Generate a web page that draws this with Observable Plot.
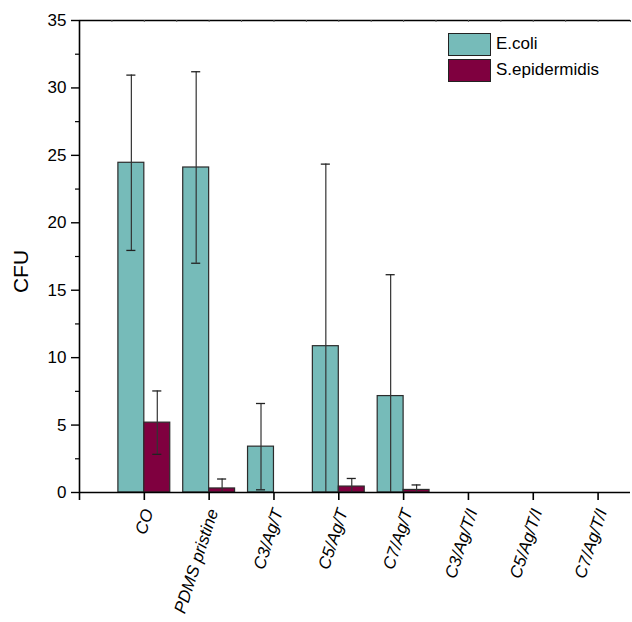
<!DOCTYPE html>
<html>
<head>
<meta charset="utf-8">
<script src="https://cdn.jsdelivr.net/npm/d3@7"></script>
<script src="https://cdn.jsdelivr.net/npm/@observablehq/plot@0.6"></script>
<style>
  html, body { margin: 0; padding: 0; background: #fff; }
  #wrap { position: relative; width: 632px; height: 622px; font-family: Arial, "Liberation Sans", sans-serif; }
  #wrap svg { font-family: Arial, "Liberation Sans", sans-serif; }
  #wrap g[aria-label="x-axis tick label"] { font-style: italic; font-size: 17px; }
  #wrap g[aria-label="y-axis tick label"] { font-size: 17px; }
  #wrap g[aria-label="text"] { font-size: 21px; }
  .legend { position: absolute; left: 448px; top: 31px; font-size: 17px; color: #000; }
  .legend .row { display: flex; align-items: center; height: 26px; }
  .legend .sw { width: 41px; height: 21px; border: 1px solid #222; margin-right: 5px; }
</style>
</head>
<body>
<div id="wrap"></div>
<script>
// ---- data ----
const categories = ["CO", "PDMS pristine", "C3/Ag/T", "C5/Ag/T", "C7/Ag/T", "C3/Ag/T/I", "C5/Ag/T/I", "C7/Ag/T/I"];
const series = ["E.coli", "S.epidermidis"];
const ecoli = [24.45, 24.1, 3.4, 10.85, 7.15, 0, 0, 0];
const ecoliErr = [6.5, 7.1, 3.2, 13.5, 9.0, 0, 0, 0];
const sepi = [5.18, 0.3, 0, 0.44, 0.19, 0, 0, 0];
const sepiErr = [2.35, 0.7, 0, 0.6, 0.37, 0, 0, 0];
const yTicks = [0, 5, 10, 15, 20, 25, 30, 35];
const yMinor = [2.5, 7.5, 12.5, 17.5, 22.5, 27.5, 32.5];
const colors = ["#76bbb9", "#7f003f"];

// ---- table ----
const barW = 0.4;
const rows = [];
categories.forEach((c, i) => {
  rows.push({cat: c, pos: i + 1, s: series[0], v: ecoli[i], e: ecoliErr[i], x1: i + 1 - barW, x2: i + 1});
  rows.push({cat: c, pos: i + 1, s: series[1], v: sepi[i], e: sepiErr[i], x1: i + 1, x2: i + 1 + barW});
});
const bars = rows.filter(d => d.v > 0);
rows.forEach(d => { d.xc = (d.x1 + d.x2) / 2; d.lo = Math.max(0, d.v - d.e); d.hi = d.v + d.e; });
const capW = 0.07;
const lowCaps = bars.filter(d => d.v - d.e > 0);
const topTicks = d3.range(0.5, 8.51, 0.5);

const plot = Plot.plot({
  width: 632,
  height: 622,
  marginLeft: 79,
  marginRight: 2,
  marginTop: 20,
  marginBottom: 130,
  x: {type: "linear", domain: [0, 8.5], axis: null},
  y: {domain: [0, 35], axis: null},
  marks: [
    Plot.rectY(bars, {x1: "x1", x2: "x2", y1: 0, y2: "v", fill: d => colors[series.indexOf(d.s)], stroke: "#2b2b2b", strokeWidth: 1.2}),
    Plot.ruleX(bars, {x: "xc", y1: "lo", y2: "hi", stroke: "#333", strokeWidth: 1.2}),
    Plot.ruleY(bars, {y: "hi", x1: d => d.xc - capW, x2: d => d.xc + capW, stroke: "#222", strokeWidth: 1.3}),
    Plot.ruleY(lowCaps, {y: "lo", x1: d => d.xc - capW, x2: d => d.xc + capW, stroke: "#222", strokeWidth: 1.3}),
    // frame
    Plot.ruleY([0], {stroke: "#000", strokeWidth: 1.6}),
    Plot.ruleY([35], {stroke: "#000", strokeWidth: 1.6}),
    Plot.ruleX([0], {y1: -0.6, y2: 35, stroke: "#000", strokeWidth: 1.6}),
    Plot.ruleX(topTicks, {y1: 35, y2: 34.86, stroke: "#555", strokeWidth: 1}),
    // y axis
    Plot.axisY({ticks: yTicks, tickSize: 8, tickPadding: 5, label: null, tickFormat: d => String(d), strokeWidth: 1.4}),
    Plot.axisY({ticks: yMinor, tickSize: 4, tickFormat: () => "", label: null, strokeWidth: 1.2}),
    Plot.text(["CFU"], {frameAnchor: "left", textAnchor: "middle", dx: -58, dy: 15, rotate: -90, fill: "#000"}),
    // x axis
    Plot.axisX({ticks: d3.range(1, 9), tickSize: 8, tickPadding: 9, tickRotate: -72, label: null,
      tickFormat: d => categories[d - 1], strokeWidth: 1.6})
  ]
});
document.getElementById("wrap").appendChild(plot);
// nudge rotated category labels slightly right as in the reference
d3.select(plot).selectAll('g[aria-label="x-axis tick label"]').attr("transform", function() {
  const t = this.getAttribute("transform") || "";
  return t + " translate(4,0)";
});

// legend
const leg = document.createElement("div");
leg.className = "legend";
series.forEach((s, i) => {
  const r = document.createElement("div");
  r.className = "row";
  const sw = document.createElement("div");
  sw.className = "sw";
  sw.style.background = colors[i];
  const t = document.createElement("span");
  t.textContent = s;
  r.appendChild(sw); r.appendChild(t);
  leg.appendChild(r);
});
document.getElementById("wrap").appendChild(leg);
</script>
</body>
</html>
